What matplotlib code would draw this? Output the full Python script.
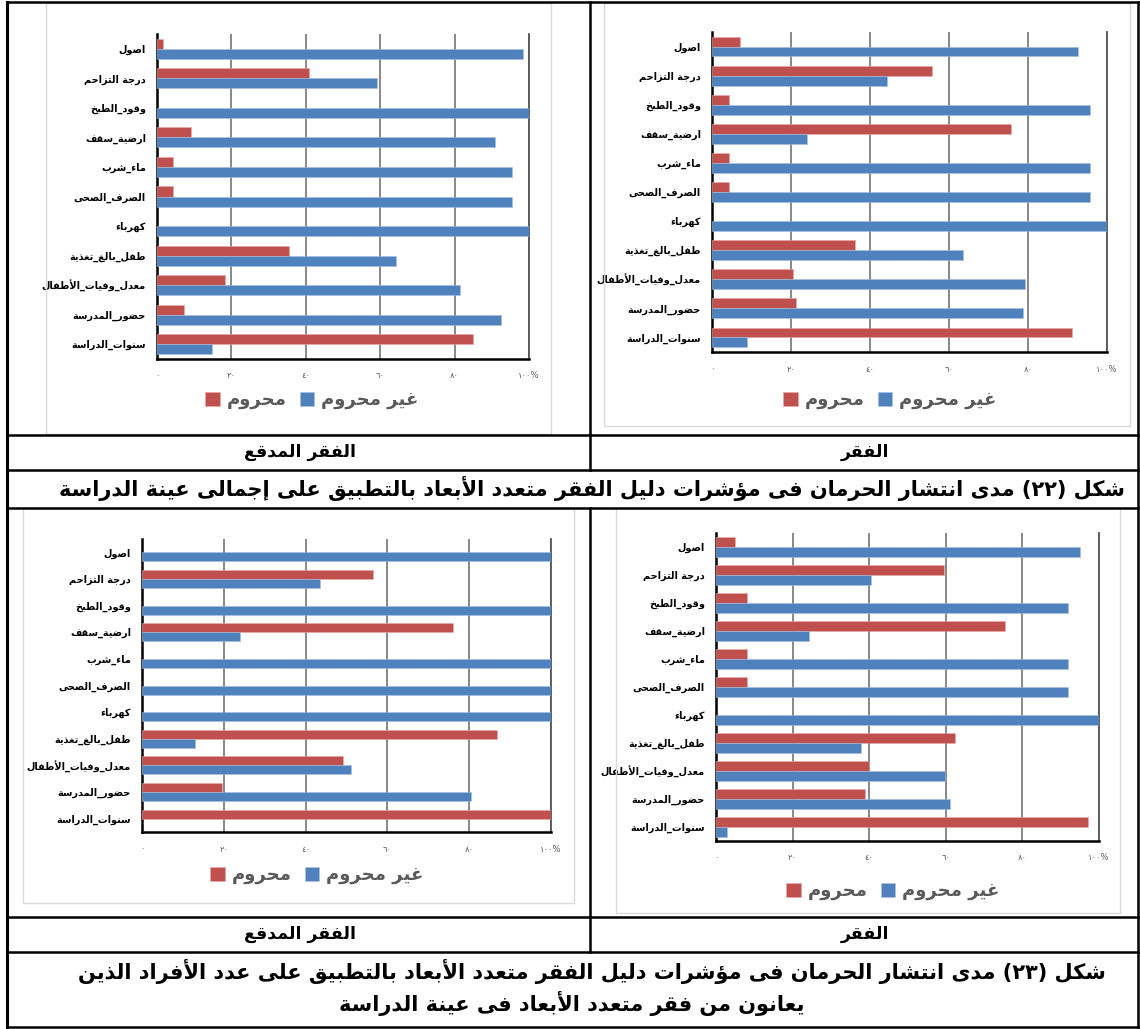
import re
import numpy as np
import matplotlib
matplotlib.use("Agg")
import matplotlib.pyplot as plt
from matplotlib.lines import Line2D
from matplotlib.patches import Rectangle, Patch

plt.rcParams['font.family'] = ['DejaVu Sans']

# ---------------- data ----------------
categories = ["اصول", "درجة التزاحم", "وقود_الطبخ", "ارضية_سقف", "ماء_شرب",
              "الصرف_الصحى", "كهرباء", "طفل_بالغ_تغذية", "معدل_وفيات_الأطفال",
              "حضور_المدرسة", "سنوات_الدراسة"]

# top-left: extreme poverty, whole sample
tl_deprived = [1.5, 40.8, 0, 9.1, 4.4, 4.4, 0, 35.6, 18.3, 7.2, 85.0]
tl_not = [98.3, 59.1, 100, 90.9, 95.5, 95.5, 100, 64.2, 81.5, 92.6, 14.8]
# top-right: poverty, whole sample
tr_deprived = [7.2, 55.8, 4.4, 75.7, 4.4, 4.4, 0, 36.3, 20.6, 21.2, 91.1]
tr_not = [92.6, 44.2, 95.6, 24.1, 95.6, 95.6, 100, 63.6, 79.3, 78.7, 8.8]
# bottom-left: extreme poverty, poor individuals
bl_deprived = [0, 56.4, 0, 76.0, 0, 0, 0, 86.9, 49.1, 19.5, 100]
bl_not = [100, 43.4, 100, 23.9, 100, 100, 100, 13.0, 51.0, 80.5, 0]
# bottom-right: poverty, poor individuals
br_deprived = [5.0, 59.4, 8.1, 75.4, 8.1, 8.1, 0, 62.3, 39.9, 38.8, 97.0]
br_not = [95.0, 40.5, 91.8, 24.4, 91.8, 91.8, 100, 37.8, 59.9, 61.1, 2.9]

tick_values = [0, 20, 40, 60, 80, 100]
tick_labels = ["٠", "٢٠", "٤٠", "٦٠", "٨٠", "١٠٠%"]
legend_labels = ["محروم", "غير محروم"]
col_labels = ["الفقر المدقع", "الفقر"]
caption1 = "شكل (٢٢) مدى انتشار الحرمان فى مؤشرات دليل الفقر متعدد الأبعاد بالتطبيق على إجمالى عينة الدراسة"
caption2 = ["شكل (٢٣) مدى انتشار الحرمان فى مؤشرات دليل الفقر متعدد الأبعاد بالتطبيق على عدد الأفراد الذين",
            "يعانون من فقر متعدد الأبعاد فى عينة الدراسة"]

RED = "#C0504D"
BLUE = "#4F81BD"

# ---------------- Arabic shaping (presentation forms + visual order) ----------------
DUAL = {'ئ': 0xFE89, 'ب': 0xFE8F, 'ت': 0xFE95, 'ث': 0xFE99, 'ج': 0xFE9D, 'ح': 0xFEA1,
        'خ': 0xFEA5, 'س': 0xFEB1, 'ش': 0xFEB5, 'ص': 0xFEB9, 'ض': 0xFEBD, 'ط': 0xFEC1,
        'ظ': 0xFEC5, 'ع': 0xFEC9, 'غ': 0xFECD, 'ف': 0xFED1, 'ق': 0xFED5, 'ك': 0xFED9,
        'ل': 0xFEDD, 'م': 0xFEE1, 'ن': 0xFEE5, 'ه': 0xFEE9, 'ي': 0xFEF1}
RIGHT = {'آ': 0xFE81, 'أ': 0xFE83, 'ؤ': 0xFE85, 'إ': 0xFE87, 'ا': 0xFE8D, 'ة': 0xFE93,
         'د': 0xFEA9, 'ذ': 0xFEAB, 'ر': 0xFEAD, 'ز': 0xFEAF, 'و': 0xFEED, 'ى': 0xFEEF}
LAMALEF = {'آ': 0xFEF5, 'أ': 0xFEF7, 'إ': 0xFEF9, 'ا': 0xFEFB}


def shape(text):
    out = []
    n = len(text)
    i = 0
    while i < n:
        c = text[i]
        prev = text[i - 1] if i > 0 else ''
        cp = prev in DUAL
        if c == 'ل' and i + 1 < n and text[i + 1] in LAMALEF:
            b = LAMALEF[text[i + 1]]
            out.append(chr(b + 1 if cp else b))
            i += 2
            continue
        nxt = text[i + 1] if i + 1 < n else ''
        cn = (nxt in DUAL) or (nxt in RIGHT)
        if c in DUAL:
            b = DUAL[c]
            if cp and cn:
                f = b + 3
            elif cp:
                f = b + 1
            elif cn:
                f = b + 2
            else:
                f = b
            out.append(chr(f))
        elif c in RIGHT:
            b = RIGHT[c]
            out.append(chr(b + 1 if cp else b))
        elif c == 'ء':
            out.append(chr(0xFE80))
        else:
            out.append(c)
        i += 1
    vis = out[::-1]
    mirror = {'(': ')', ')': '('}
    s = ''.join(mirror.get(ch, ch) for ch in vis)
    s = re.sub(r'[0-9\u0660-\u0669]+', lambda m: m.group(0)[::-1], s)
    return s


# ---------------- figure ----------------
W, H = 1140, 1029
fig = plt.figure(figsize=(W / 100, H / 100), dpi=100)


def fx(x):
    return x / W


def fy(y):
    return 1 - y / H


def hline(y, x0, x1, lw=1.8):
    fig.add_artist(Line2D([fx(x0), fx(x1)], [fy(y), fy(y)], color='black', lw=lw,
                          transform=fig.transFigure, solid_capstyle='projecting'))


def vline(x, y0, y1, lw=1.8):
    fig.add_artist(Line2D([fx(x), fx(x)], [fy(y0), fy(y1)], color='black', lw=lw,
                          transform=fig.transFigure, solid_capstyle='projecting'))


def chart_box(x0, y0, x1, y1):
    fig.add_artist(Rectangle((fx(x0), fy(y1)), (x1 - x0) / W, (y1 - y0) / H,
                             transform=fig.transFigure, fill=False, ec='#d9d9d9', lw=1.0))


def chart(plot_px, deprived, notdep, legend_center):
    x0, y0, x1, y1 = plot_px
    ax = fig.add_axes([fx(x0), fy(y1), (x1 - x0) / W, (y1 - y0) / H])
    y = np.arange(len(categories))
    h = 0.34
    ax.barh(y - h / 2, deprived, height=h, color=RED, edgecolor='#e8a9a7',
            linewidth=[0.4 if v > 0 else 0 for v in deprived], zorder=3)
    ax.barh(y + h / 2, notdep, height=h, color=BLUE, edgecolor='#a9c0de',
            linewidth=[0.4 if v > 0 else 0 for v in notdep], zorder=3)
    ax.set_xlim(0, 100)
    ax.set_ylim(len(categories) - 0.5, -0.5)
    ax.set_xticks(tick_values)
    ax.set_xticklabels(tick_labels, fontsize=6, color='#595959')
    ax.set_yticks(y)
    ax.set_yticklabels([shape(c) for c in categories], fontsize=7, fontweight='bold')
    ax.tick_params(axis='x', length=0, pad=9)
    ax.tick_params(axis='y', length=0, pad=8)
    ax.xaxis.grid(True, color='#7f7f7f', lw=1.3, zorder=0)
    ax.set_axisbelow(True)
    ax.spines['top'].set_visible(False)
    ax.spines['right'].set_color('#555555')
    ax.spines['right'].set_linewidth(1.3)
    ax.spines['left'].set_linewidth(1.8)
    ax.spines['bottom'].set_linewidth(1.8)
    handles = [Patch(facecolor=RED, edgecolor='#e8a9a7', lw=0.5),
               Patch(facecolor=BLUE, edgecolor='#a9c0de', lw=0.5)]
    ax.legend(handles, [shape(t) for t in legend_labels], loc='center',
              bbox_to_anchor=(fx(legend_center[0]), fy(legend_center[1])),
              bbox_transform=fig.transFigure, ncol=2, frameon=False,
              prop=dict(weight='bold', size=13), labelcolor='#595959',
              handlelength=0.8, handleheight=0.8, columnspacing=0.7, handletextpad=0.4)
    return ax


# chart areas (light grey frames)
chart_box(46, 3, 551, 434)
chart_box(604, 3, 1130, 426)
chart_box(23, 508, 574, 903)
chart_box(616, 508, 1120, 913)

chart((157, 34, 529, 359), tl_deprived, tl_not, (312, 400))
chart((712, 32, 1107, 352), tr_deprived, tr_not, (890, 400))
chart((142, 539, 551, 832), bl_deprived, bl_not, (317, 875))
chart((716, 533, 1099, 841), br_deprived, br_not, (893, 891))

# table lines
for yy in [2, 435, 470, 508, 917, 952, 1027]:
    hline(yy, 7, 1138)
vline(7, 2, 1027, lw=2.2)
vline(1138, 2, 1027)
vline(590, 2, 470)
vline(590, 508, 952)

# text cells
for yy in [452, 934]:
    fig.text(fx(300), fy(yy), shape(col_labels[0]), ha='center', va='center',
             fontsize=12.5, fontweight='bold')
    fig.text(fx(865), fy(yy), shape(col_labels[1]), ha='center', va='center',
             fontsize=12.5, fontweight='bold')

fig.text(fx(592), fy(488), shape(caption1), ha='center', va='center',
         fontsize=15, fontweight='bold')
fig.text(fx(592), fy(971), shape(caption2[0]), ha='center', va='center',
         fontsize=15, fontweight='bold')
fig.text(fx(572), fy(1003), shape(caption2[1]), ha='center', va='center',
         fontsize=15, fontweight='bold')

fig.savefig("out.png", dpi=100)
